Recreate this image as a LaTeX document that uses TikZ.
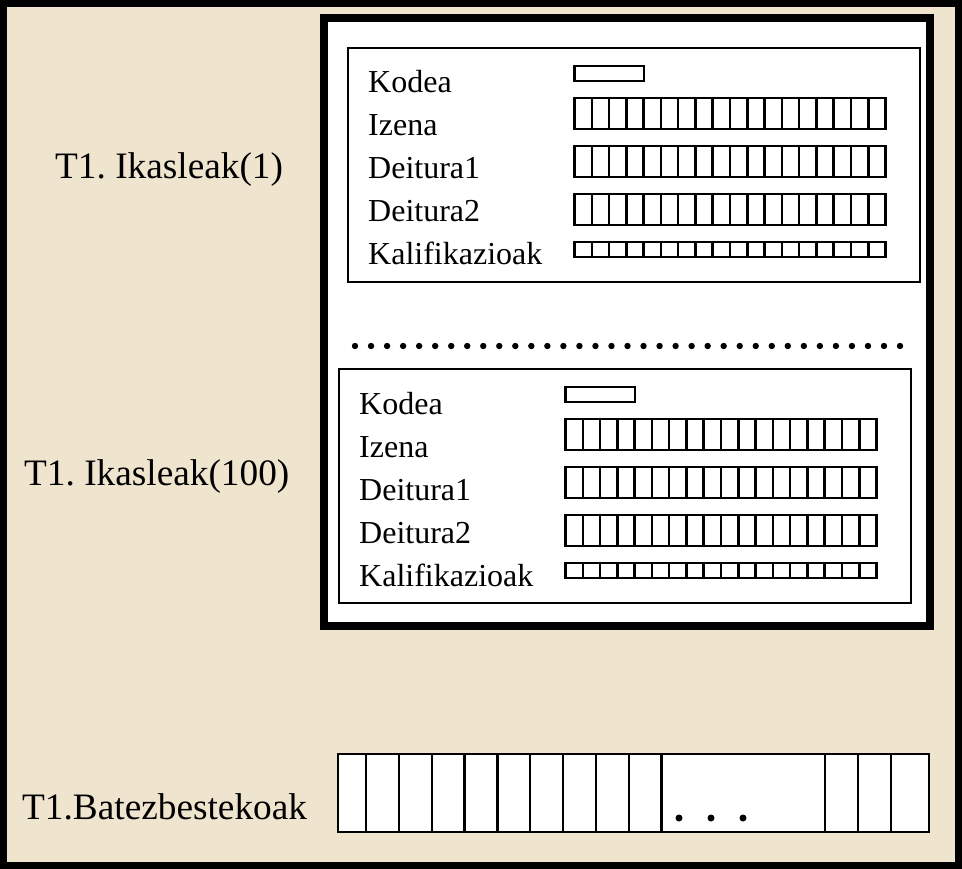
\documentclass[tikz,border=0pt]{standalone}
\usepackage{fontspec}
\setmainfont{Liberation Serif}
\frenchspacing
\definecolor{bg}{RGB}{239,228,206}
\tikzset{
  lab/.style={anchor=base west,inner sep=0pt,font=\fontsize{37.3}{40}\selectfont},
  fld/.style={anchor=base west,inner sep=0pt,font=\fontsize{32}{36}\selectfont},
  cellline/.style={draw=black,line width=2.5pt},
  recbox/.style={draw=black,line width=2pt,fill=white},
  arrline/.style={draw=black,line width=2.2pt},
  record/.pic={
    \draw[recbox] (0,0) rectangle (572,234);
    \node[fld] (-kodea) at (20,45) {Kodea};
    \node[fld] (-izena) at (20,88) {Izena};
    \node[fld] (-deit1) at (20,131) {Deitura1};
    \node[fld] (-deit2) at (20,174) {Deitura2};
    \node[fld] (-kalif) at (20,217) {Kalifikazioak};
    \draw[cellline] (226.5,18) rectangle (296,33);
    \foreach \ya/\yb in {50/81,98/129,146/177,194/209}{
      \draw[cellline] (226.5,\ya) rectangle (537.5,\yb);
      \foreach \i in {1,...,17}{
        \draw[cellline] ({226.5+\i*17.28},\ya) -- ({226.5+\i*17.28},\yb);
      }
    }
  }
}
\begin{document}
\begin{tikzpicture}[x=1pt,y=-1pt]
\useasboundingbox (0,0) rectangle (962,869);
\fill[black] (0,0) rectangle (962,869);
\fill[bg] (7,7) rectangle (955,862);
% big container
\draw[line width=8pt,fill=white] (324,18) rectangle (930,626);
\pic (r1) at (348,48) {record};
\pic (r2) at (339,369) {record};
% dotted separator
\foreach \i in {0,...,34}{
  \fill[black] ({355+\i*16.03},346) circle (3.2pt);
}
% left labels
\node[lab] (l1) at (55,179) {T1. Ikasleak(1)};
\node[lab] (l100) at (24,485) {T1. Ikasleak(100)};
\node[lab] (lbat) at (22,819) {T1.Batezbestekoak};
% bottom array
\draw[arrline,fill=white] (338,754) rectangle (929,832);
\foreach \x in {366,399,432,464.5,497.4,530,562.8,595.7,628.6,661.5,824.9,857.8,890.7}{
  \draw[arrline] (\x,754) -- (\x,832);
}
\foreach \x in {679,711,743}{
  \fill[black] (\x,818) circle (3.5pt);
}
\end{tikzpicture}
\end{document}
